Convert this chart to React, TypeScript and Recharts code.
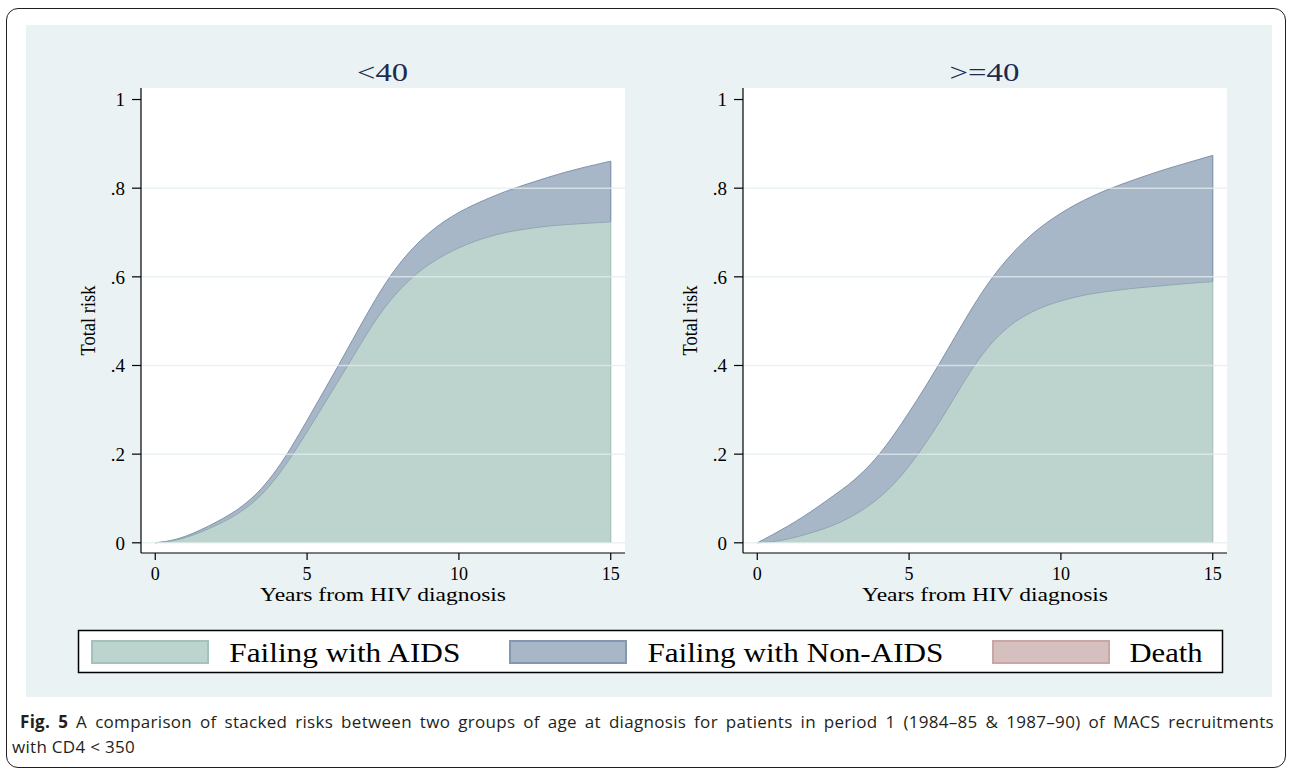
import React from 'react';
import { AreaChart, Area, XAxis, YAxis, CartesianGrid, ReferenceLine, Label } from 'recharts';

// ---- data ----
const years = [0, 0.5, 1, 1.5, 2, 2.5, 3, 3.5, 4, 4.5, 5, 5.5, 6, 6.5, 7, 7.5, 8, 8.5, 9, 9.5, 10, 10.5, 11, 11.5, 12, 12.5, 13, 13.5, 14, 14.5, 15];

// "<40" panel: cumulative risk boundaries (AIDS, and AIDS + Non-AIDS)
const youngAids = [0, 0.003, 0.011, 0.024, 0.039, 0.056, 0.078, 0.107, 0.147, 0.196, 0.25, 0.306, 0.362, 0.418, 0.476, 0.527, 0.568, 0.602, 0.628, 0.649, 0.666, 0.68, 0.691, 0.7, 0.706, 0.711, 0.715, 0.718, 0.72, 0.722, 0.724];
const youngAidsPlusNonAids = [0, 0.004, 0.014, 0.029, 0.046, 0.065, 0.089, 0.121, 0.164, 0.217, 0.276, 0.336, 0.396, 0.458, 0.52, 0.578, 0.627, 0.667, 0.699, 0.725, 0.746, 0.763, 0.778, 0.792, 0.804, 0.815, 0.826, 0.836, 0.845, 0.853, 0.861];

// ">=40" panel
const oldAids = [0, 0.002, 0.008, 0.017, 0.027, 0.039, 0.055, 0.075, 0.1, 0.132, 0.172, 0.22, 0.272, 0.328, 0.386, 0.434, 0.472, 0.5, 0.52, 0.535, 0.546, 0.555, 0.562, 0.567, 0.571, 0.575, 0.578, 0.581, 0.584, 0.587, 0.589];
const oldAidsPlusNonAids = [0, 0.018, 0.037, 0.058, 0.081, 0.106, 0.13, 0.16, 0.197, 0.243, 0.294, 0.348, 0.404, 0.463, 0.522, 0.576, 0.622, 0.661, 0.694, 0.721, 0.744, 0.764, 0.781, 0.796, 0.809, 0.821, 0.833, 0.844, 0.854, 0.864, 0.874];

const panelTitles = ['<40', '>=40'];
const xTicks = [0, 5, 10, 15];
const yTicks = [0, 0.2, 0.4, 0.6, 0.8, 1];
const gridValues = [0, 0.2, 0.4, 0.6, 0.8];
const legendLabels = ['Failing with AIDS', 'Failing with Non-AIDS', 'Death'];

// ---- styles ----
const SERIF = '"Liberation Serif", "Times New Roman", serif';
const BG = '#eaf2f3';
const AIDS_FILL = '#bdd3ce';
const AIDS_STROKE = '#8fa8b0';
const NON_FILL = '#a8b7c7';
const NON_STROKE = '#7f93ac';
const DEATH_FILL = '#d6c0bf';
const DEATH_STROKE = '#c8a6a4';

const buildRows = (aids: number[], top: number[]) =>
  years.map((t, i) => ({ t, aids: aids[i], top: top[i] }));

const fmtY = (v: number) => (v === 0 ? '0' : v === 1 ? '1' : String(v).replace(/^0/, ''));

const XTitle = (props: any) => {
  const vb = props.viewBox || {};
  return (
    <text x={vb.x + vb.width / 2} y={vb.y + 48} textAnchor="middle" fontFamily={SERIF} fontSize={19} fill="#000"
      textLength={246} lengthAdjust="spacingAndGlyphs">
      Years from HIV diagnosis
    </text>
  );
};

const YTitle = (props: any) => {
  const vb = props.viewBox || {};
  const cx = vb.x + 62;
  const cy = vb.y + vb.height / 2;
  return (
    <text x={cx} y={cy} textAnchor="middle" dominantBaseline="central" fontFamily={SERIF} fontSize={20} fill="#000"
      transform={`rotate(-90, ${cx}, ${cy})`} textLength={70} lengthAdjust="spacingAndGlyphs">
      Total risk
    </text>
  );
};

const Panel = ({ aids, top, left }: { aids: number[]; top: number[]; left: number }) => {
  const rows = buildRows(aids, top);
  const last = years.length - 1;
  const tEnd = years[last];
  return (
    <div style={{ position: 'absolute', left, top: 25 }}>
      <AreaChart width={599} height={588} data={rows} margin={{ top: 63, right: 0, bottom: 0, left: 0 }}>
        <CartesianGrid fill="#ffffff" horizontal={false} vertical={false} stroke="none" />
        <XAxis type="number" dataKey="t" domain={[-0.47, 15.47]} ticks={xTicks} allowDataOverflow
          height={60} tickSize={7} tickMargin={7} stroke="#000" strokeWidth={1.2}
          tick={{ fontFamily: SERIF, fontSize: 18, fill: '#000' }} tickLine={{ stroke: '#000' }}>
          <Label content={XTitle} />
        </XAxis>
        <YAxis type="number" domain={[-0.023, 1.026]} ticks={yTicks} allowDataOverflow width={115}
          tickSize={9} tickMargin={7} tickFormatter={fmtY} stroke="#000" strokeWidth={1.2}
          tick={{ fontFamily: SERIF, fontSize: 19, fill: '#000' }} tickLine={{ stroke: '#000' }}>
          <Label content={YTitle} />
        </YAxis>
        <Area type="basis" dataKey="top" baseValue={0} fill={NON_FILL} fillOpacity={1} stroke={NON_STROKE}
          strokeWidth={1} isAnimationActive={false} dot={false} activeDot={false} />
        <Area type="basis" dataKey="aids" baseValue={0} fill={AIDS_FILL} fillOpacity={1} stroke={AIDS_STROKE}
          strokeWidth={1} isAnimationActive={false} dot={false} activeDot={false} />
        <ReferenceLine segment={[{ x: tEnd, y: aids[last] }, { x: tEnd, y: top[last] }]} stroke={NON_STROKE} strokeWidth={1.2} />
        <ReferenceLine segment={[{ x: tEnd, y: 0 }, { x: tEnd, y: aids[last] }]} stroke="#a9c3be" strokeWidth={1.2} />
        {gridValues.map((v) => (
          <ReferenceLine key={v} y={v} stroke="#e3ecee" strokeOpacity={0.75} strokeWidth={1.5} />
        ))}
      </AreaChart>
    </div>
  );
};

export default function App() {
  return (
    <div style={{ position: 'absolute', left: 0, top: 0, width: 1292, height: 770, background: '#fff', overflow: 'hidden' }}>
      <div style={{ position: 'absolute', left: 6, top: 8, width: 1278, height: 758, border: '1.5px solid #231f20', borderRadius: 12 }} />
      <div style={{ position: 'absolute', left: 26, top: 25, width: 1246, height: 672, background: BG }} />
      <Panel aids={youngAids} top={youngAidsPlusNonAids} left={26} />
      <Panel aids={oldAids} top={oldAidsPlusNonAids} left={628} />
      <svg width={1292} height={770} style={{ position: 'absolute', left: 0, top: 0, pointerEvents: 'none' }}>
        <text x={382.5} y={81} textAnchor="middle" fontFamily={SERIF} fontSize={25} fill="#1c2b4f"
          textLength={51} lengthAdjust="spacingAndGlyphs">{panelTitles[0]}</text>
        <text x={984.5} y={81} textAnchor="middle" fontFamily={SERIF} fontSize={25} fill="#1c2b4f"
          textLength={70} lengthAdjust="spacingAndGlyphs">{panelTitles[1]}</text>
        <rect x={78.5} y={630.5} width={1144} height={42} fill="#fff" stroke="#000" strokeWidth={1.5} />
        <rect x={92} y={641} width={116} height={22} fill={AIDS_FILL} stroke="#a3c2bd" strokeWidth={2} />
        <text x={229.3} y={662} fontFamily={SERIF} fontSize={27} fill="#000" textLength={231} lengthAdjust="spacingAndGlyphs">{legendLabels[0]}</text>
        <rect x={510} y={641} width={116} height={22} fill={NON_FILL} stroke="#8398b0" strokeWidth={2} />
        <text x={647.4} y={662} fontFamily={SERIF} fontSize={27} fill="#000" textLength={296} lengthAdjust="spacingAndGlyphs">{legendLabels[1]}</text>
        <rect x={993} y={641} width={116} height={22} fill={DEATH_FILL} stroke={DEATH_STROKE} strokeWidth={2} />
        <text x={1129.5} y={662} fontFamily={SERIF} fontSize={27} fill="#000" textLength={73} lengthAdjust="spacingAndGlyphs">{legendLabels[2]}</text>
      </svg>
      <div style={{ position: 'absolute', left: 20, top: 709, width: 1254, fontFamily: '"Open Sans", sans-serif', fontSize: 17, letterSpacing: '0.3px', lineHeight: '25px', color: '#231f20' }}>
        <div style={{ textAlign: 'justify', textAlignLast: 'justify', whiteSpace: 'nowrap' }}>
          <b>Fig. 5</b> A comparison of stacked risks between two groups of age at diagnosis for patients in period 1 (1984–85 &amp; 1987–90) of MACS recruitments
        </div>
        <div style={{ marginLeft: -8 }}>with CD4 &lt; 350</div>
      </div>
    </div>
  );
}
